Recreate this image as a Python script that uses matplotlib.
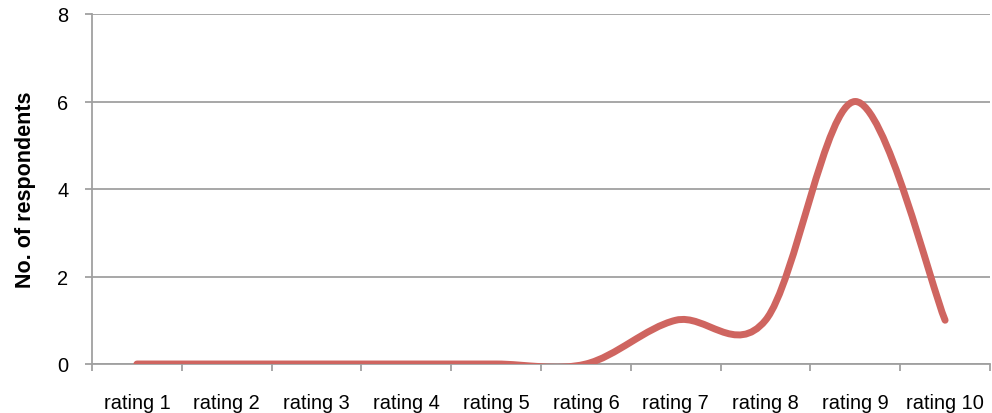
import matplotlib
matplotlib.use("Agg")
import matplotlib.pyplot as plt
from matplotlib.path import Path
from matplotlib.patches import PathPatch
import numpy as np

plt.rcParams['font.family'] = ['Liberation Sans', 'DejaVu Sans']

# data
categories = ['rating 1', 'rating 2', 'rating 3', 'rating 4', 'rating 5',
              'rating 6', 'rating 7', 'rating 8', 'rating 9', 'rating 10']
respondents = [0, 0, 0, 0, 0, 0, 1, 1, 6, 1]

line_color = '#CF6560'
grid_color = '#A0A0A0'


# Excel-like smoothed line: cubic Bezier with Catmull-Rom control points
def smooth_path(xs, ys):
    pts = np.column_stack([xs, ys]).astype(float)
    n = len(pts)
    verts = [pts[0]]
    codes = [Path.MOVETO]
    for i in range(n - 1):
        p_prev = pts[i - 1] if i > 0 else pts[i]
        p_next2 = pts[i + 2] if i + 2 < n else pts[i + 1]
        c1 = pts[i] + (pts[i + 1] - p_prev) / 6.0
        c2 = pts[i + 1] - (p_next2 - pts[i]) / 6.0
        verts += [c1, c2, pts[i + 1]]
        codes += [Path.CURVE4] * 3
    return Path(verts, codes)


fig = plt.figure(figsize=(9.92, 4.14), dpi=100)
ax = fig.add_axes([92 / 992, 49 / 414, 898 / 992, 350 / 414])

x = np.arange(1, len(categories) + 1)
patch = PathPatch(smooth_path(x, respondents), facecolor='none',
                  edgecolor=line_color, lw=5, capstyle='round',
                  joinstyle='round', zorder=3)
ax.add_patch(patch)

ax.set_xlim(0.5, len(categories) + 0.5)
ax.set_ylim(0, 8)

ax.set_yticks([0, 2, 4, 6, 8])
ax.yaxis.grid(True, color=grid_color, lw=1.3)
ax.set_axisbelow(True)

ax.set_xticks(np.arange(0.5, len(categories) + 1, 1))
ax.set_xticklabels([])
ax.set_xticks(x, minor=True)
ax.set_xticklabels(categories, minor=True)
ax.tick_params(axis='x', which='major', length=5, width=1.3, color=grid_color)
ax.tick_params(axis='x', which='minor', length=0, pad=21, labelsize=14.4)
ax.tick_params(axis='y', length=5, width=1.3, color=grid_color, pad=12,
               labelsize=14.4)

for side in ['top', 'right']:
    ax.spines[side].set_visible(False)
for side in ['left', 'bottom']:
    ax.spines[side].set_color(grid_color)
    ax.spines[side].set_linewidth(1.3)

ax.set_ylabel('No. of respondents', fontsize=15.5, fontweight='bold')
ax.yaxis.set_label_coords(-0.0625, 0.5)

fig.savefig('out.png', dpi=100)
